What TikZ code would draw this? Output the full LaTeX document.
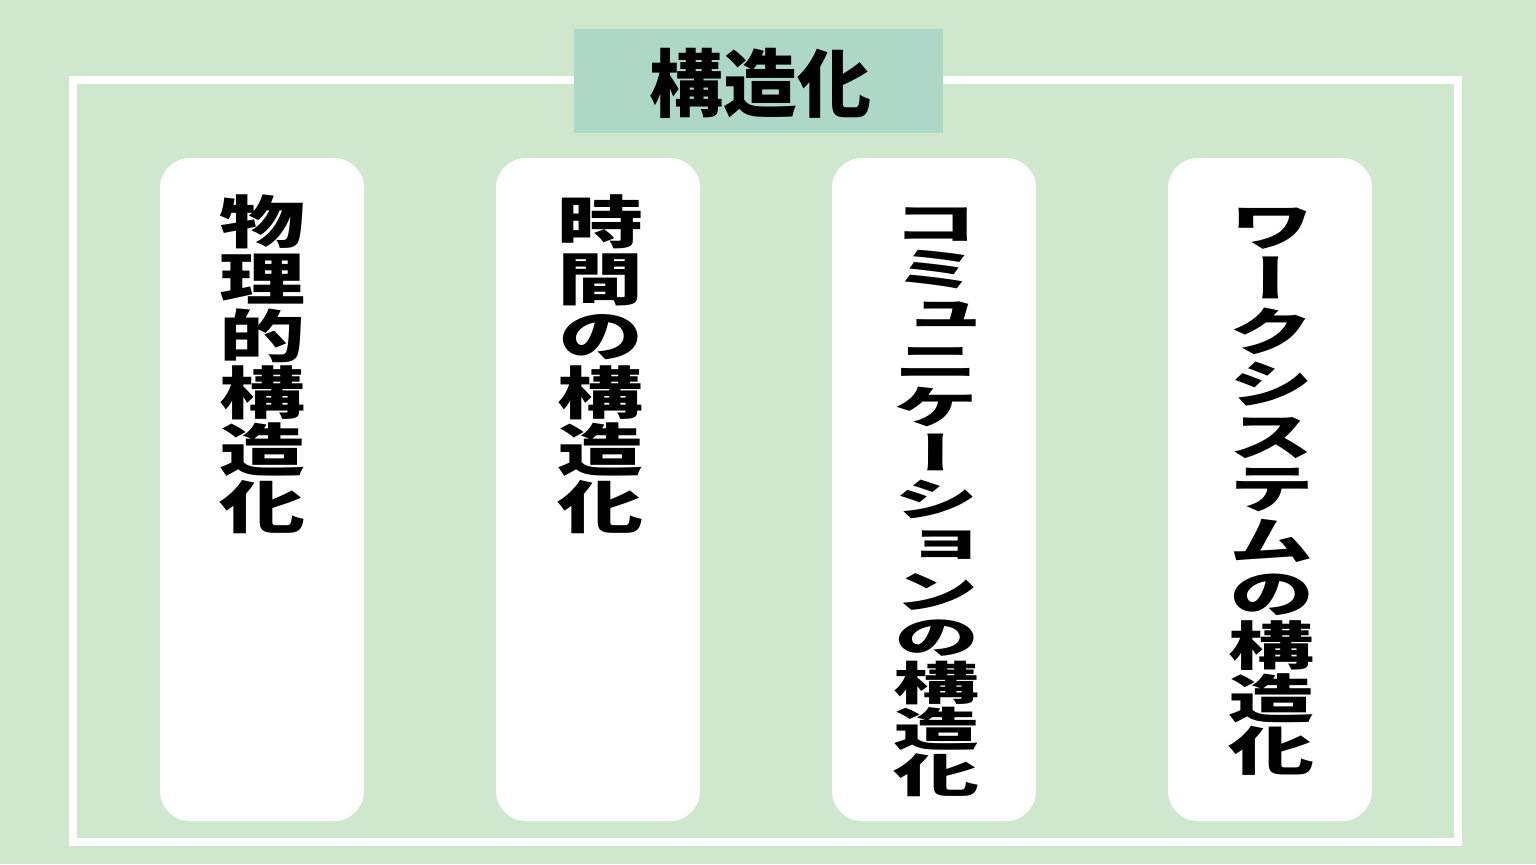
\documentclass[tikz,border=0pt]{standalone}
\usepackage{fontspec}
\usepackage{graphicx}
\newfontfamily\jpv[RawFeature=+vert]{Noto Sans CJK JP}
\newfontfamily\jpt{Noto Sans CJK JP}
\definecolor{bggreen}{HTML}{CFE7CD}
\definecolor{titlefill}{HTML}{ADD8C7}
\newcommand\vchars[2]{\scalebox{1}[#1]{\fontsize{43}{43}\selectfont\jpv\bfseries\vbox{\offinterlineskip\halign{\hfil\strut\smash{##}\hfil\cr #2}}}}
\tikzset{
  card/.style={fill=white, draw=none, rounded corners=15pt},
  frameline/.style={draw=white, line width=4pt},
  titlebox/.style={fill=titlefill, draw=none},
  vlabel/.style={inner sep=0pt, anchor=center, text=black}
}
\begin{document}
\begin{tikzpicture}[x=0.5pt,y=-0.5pt]
\useasboundingbox (0,0) rectangle (1536,864);
\fill[bggreen] (0,0) rectangle (1536,864);
\draw[frameline] (73,80) rectangle (1458,842);
\node[titlebox, minimum width=184.5pt, minimum height=52pt, inner sep=0pt] (title) at (758.5,81) {};
\node[inner sep=0pt, font=\fontsize{37}{37}\selectfont\jpt\bfseries] (titletext) at (760,83) {構造化};
\foreach \cx/\nm in {262/c1,598/c2,934/c3,1270/c4}{
  \fill[card] (\cx-102,158) rectangle (\cx+102,821);
}
\node[vlabel] (t1) at (262,375) {\vchars{0.663}{物\cr 理\cr 的\cr 構\cr 造\cr 化\cr}};
\node[vlabel] (t2) at (600,375) {\vchars{0.663}{時\cr 間\cr の\cr 構\cr 造\cr 化\cr}};
\node[vlabel] (t3) at (936,507) {\vchars{0.535}{コ\cr ミ\cr ュ\cr ニ\cr ケ\cr ー\cr シ\cr ョ\cr ン\cr の\cr 構\cr 造\cr 化\cr}};
\node[vlabel] (t4) at (1271,498) {\vchars{0.61}{ワ\cr ー\cr ク\cr シ\cr ス\cr テ\cr ム\cr の\cr 構\cr 造\cr 化\cr}};
\end{tikzpicture}
\end{document}
